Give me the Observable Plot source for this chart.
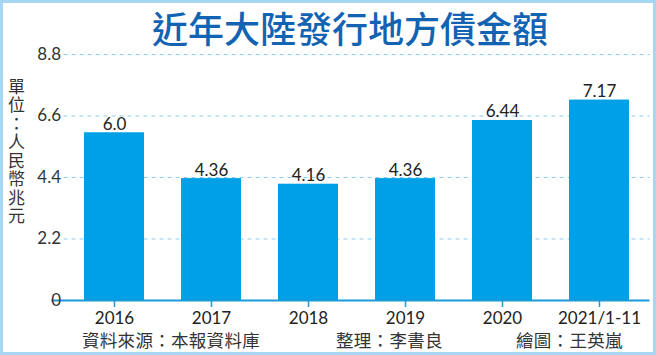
<!DOCTYPE html>
<html><head><meta charset="utf-8">
<script src="https://cdn.jsdelivr.net/npm/d3@7"></script>
<script src="https://cdn.jsdelivr.net/npm/@observablehq/plot@0.6"></script>
<style>
body{margin:0;background:#fff;}
#wrap{position:relative;width:656px;height:355px;overflow:hidden;background:#fff;font-family:Lato,"Noto Sans CJK TC",sans-serif;}
#chart{position:absolute;left:0;top:0;}
#border{position:absolute;left:0;top:0;right:0;bottom:0;border:3px solid #a6d6f2;pointer-events:none;}
#title{position:absolute;left:0;width:700px;top:5px;text-align:center;font-family:"Noto Sans CJK TC",sans-serif;font-size:36px;font-weight:500;color:#1363b3;line-height:44px;}
#ylab{position:absolute;left:7px;top:78px;writing-mode:vertical-rl;font-family:"Noto Sans CJK TC",sans-serif;font-size:17px;color:#333;line-height:18px;letter-spacing:1.5px;}
.cap{position:absolute;top:329px;font-family:"Noto Sans CJK TC",sans-serif;font-size:17.5px;color:#333;line-height:22px;white-space:nowrap;letter-spacing:0.3px;}
</style></head>
<body>
<div id="wrap">
  <div id="chart"></div>
  <div id="title"></div>
  <div id="ylab"></div>
  <div class="cap" id="c1" style="left:82px"></div>
  <div class="cap" id="c2" style="left:336px"></div>
  <div class="cap" id="c3" style="left:516px"></div>
  <div id="border"></div>
</div>
<script>
const titleText = "近年大陸發行地方債金額";
const unitText = "單位：人民幣兆元";
const captions = ["資料來源：本報資料庫", "整理：李書良", "繪圖：王英嵐"];
const years = ["2016", "2017", "2018", "2019", "2020", "2021/1-11"];
const values = [6.0, 4.36, 4.16, 4.36, 6.44, 7.17];
const valueLabels = ["6.0", "4.36", "4.16", "4.36", "6.44", "7.17"];
const yTicks = [0, 2.2, 4.4, 6.6, 8.8];

document.getElementById("title").textContent = titleText;
document.getElementById("ylab").textContent = unitText;
["c1","c2","c3"].forEach((id,i)=>document.getElementById(id).textContent = captions[i]);

const data = years.map((y,i)=>({year:y, value:values[i], label:valueLabels[i]}));
const font = 'Lato, "Noto Sans CJK TC", sans-serif';

const chart = Plot.plot({
  width: 656, height: 355,
  marginTop: 54, marginBottom: 55, marginLeft: 63.5, marginRight: 6.5,
  style: {fontFamily: font, fontSize: "17px", color: "#222", background: "transparent"},
  x: {domain: years, paddingInner: 0.38, paddingOuter: 0.2, label: null},
  y: {domain: [0, 8.8], label: null},
  marks: [
    Plot.ruleY(yTicks.filter(d => d > 0), {stroke: "#8dcdef", strokeDasharray: "4,4", strokeWidth: 1}),
    Plot.barY(data, {x: "year", y: "value", fill: "#00a0e6"}),
    Plot.ruleY([0], {stroke: "#1a9ad8", strokeWidth: 2, insetLeft: -12}),
    Plot.text(data, {x: "year", y: "value", text: "label", dy: -3, lineAnchor: "bottom", fontSize: 17, fill: "#222"}),
    Plot.axisY({ticks: yTicks, tickSize: 0, tickPadding: 3, fontSize: 17, fill: "#333", label: null,
      tickFormat: d => d === 0 ? "0" : d.toFixed(1)}),
    Plot.axisX({tickSize: 7, stroke: "#1a9ad8", strokeWidth: 1.5, tickPadding: 4, fontSize: 17, fill: "#222", label: null})
  ]
});
document.getElementById("chart").appendChild(chart);
</script>
</body></html>
